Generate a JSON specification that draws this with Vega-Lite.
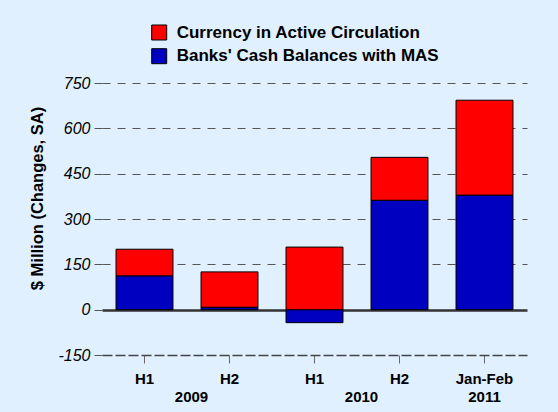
{
  "$schema": "https://vega.github.io/schema/vega-lite/v6.json",
  "width": 425,
  "height": 272,
  "autosize": {"type": "none"},
  "padding": {"left": 102, "top": 83, "right": 31, "bottom": 57},
  "background": "#E0F0FF",
  "config": {
    "view": {"stroke": null},
    "font": "Liberation Sans",
    "locale": {"number": {"decimal": ".", "thousands": ",", "grouping": [3], "currency": ["$", ""], "minus": "-"}}
  },
  "datasets": {
    "bars": [
      {"period": "H1 2009", "series": "Banks' Cash Balances with MAS", "value": 112},
      {"period": "H1 2009", "series": "Currency in Active Circulation", "value": 88},
      {"period": "H2 2009", "series": "Banks' Cash Balances with MAS", "value": 8},
      {"period": "H2 2009", "series": "Currency in Active Circulation", "value": 117},
      {"period": "H1 2010", "series": "Banks' Cash Balances with MAS", "value": -43},
      {"period": "H1 2010", "series": "Currency in Active Circulation", "value": 207},
      {"period": "H2 2010", "series": "Banks' Cash Balances with MAS", "value": 362},
      {"period": "H2 2010", "series": "Currency in Active Circulation", "value": 142},
      {"period": "Jan-Feb 2011", "series": "Banks' Cash Balances with MAS", "value": 379},
      {"period": "Jan-Feb 2011", "series": "Currency in Active Circulation", "value": 314}
    ],
    "periods": [
      {"period": "H1 2009", "label": "H1", "year": "2009"},
      {"period": "H2 2009", "label": "H2", "year": ""},
      {"period": "H1 2010", "label": "H1", "year": "2010"},
      {"period": "H2 2010", "label": "H2", "year": ""},
      {"period": "Jan-Feb 2011", "label": "Jan-Feb", "year": "2011"}
    ]
  },
  "layer": [
    {
      "data": {"name": "bars"},
      "mark": {"type": "bar", "stroke": "black", "strokeWidth": 1},
      "encoding": {
        "x": {
          "field": "period", "type": "nominal",
          "scale": {"domain": ["H1 2009", "H2 2009", "H1 2010", "H2 2010", "Jan-Feb 2011"], "paddingInner": 0.33, "paddingOuter": 0.165},
          "axis": {
            "title": null,
            "labels": false,
            "tickSize": 8,
            "tickColor": "#666",
            "domainColor": "#444",
            "domainDash": [10, 3],
            "domainWidth": 1.5,
            "grid": false
          }
        },
        "y": {
          "field": "value", "type": "quantitative", "stack": "zero",
          "scale": {"domain": [-150, 750], "nice": false, "zero": false},
          "axis": {
            "title": "$ Million (Changes, SA)",
            "values": [-150, 0, 150, 300, 450, 600, 750],
            "format": "d",
            "labelFontStyle": "italic",
            "labelFontSize": 16,
            "labelColor": "black",
            "labelPadding": 4,
            "tickSize": 8,
            "tickColor": "#555",
            "domain": false,
            "grid": true,
            "gridDash": {"condition": {"test": "datum.value === 0", "value": []}, "value": [8, 7]},
            "gridColor": {"condition": {"test": "datum.value === 0", "value": "#333"}, "value": "#555"},
            "gridWidth": {"condition": {"test": "datum.value === 0", "value": 2.5}, "value": 1.2},
            "gridOpacity": {"condition": {"test": "datum.value === -150", "value": 0}, "value": 1},
            "titleFontSize": 16.5,
            "titleFontWeight": "bold",
            "titleColor": "black",
            "titleAngle": 270,
            "titleX": -65,
            "titleY": 115,
            "titleAlign": "center",
            "titleBaseline": "middle"
          }
        },
        "color": {
          "field": "series", "type": "nominal",
          "scale": {"domain": ["Currency in Active Circulation", "Banks' Cash Balances with MAS"], "range": ["#FF0000", "#0000C0"]},
          "legend": {
            "orient": "none",
            "legendX": 48.7,
            "legendY": -59,
            "title": null,
            "symbolType": "square",
            "symbolSize": 225,
            "symbolStrokeColor": "black",
            "symbolStrokeWidth": 1,
            "symbolOpacity": 1,
            "labelFontSize": 17,
            "labelFontWeight": "bold",
            "labelColor": "black",
            "labelLimit": 400,
            "labelOffset": 9,
            "rowPadding": 4.7,
            "padding": 0
          }
        },
        "order": {"field": "series", "sort": "ascending"}
      }
    },
    {
      "data": {"name": "periods"},
      "mark": {"type": "text", "dy": 24, "fontWeight": "bold", "fontSize": 15, "color": "black", "baseline": "middle"},
      "encoding": {
        "x": {"field": "period", "type": "nominal"},
        "y": {"datum": -150, "type": "quantitative"},
        "text": {"field": "label"}
      }
    },
    {
      "data": {"name": "periods"},
      "transform": [{"filter": "datum.year != '2011'"}],
      "mark": {"type": "text", "dx": 47, "dy": 42, "fontWeight": "bold", "fontSize": 15, "color": "black", "baseline": "middle"},
      "encoding": {
        "x": {"field": "period", "type": "nominal"},
        "y": {"datum": -150, "type": "quantitative"},
        "text": {"field": "year"}
      }
    },
    {
      "data": {"name": "periods"},
      "transform": [{"filter": "datum.year == '2011'"}],
      "mark": {"type": "text", "dy": 42, "fontWeight": "bold", "fontSize": 15, "color": "black", "baseline": "middle"},
      "encoding": {
        "x": {"field": "period", "type": "nominal"},
        "y": {"datum": -150, "type": "quantitative"},
        "text": {"field": "year"}
      }
    }
  ]
}
